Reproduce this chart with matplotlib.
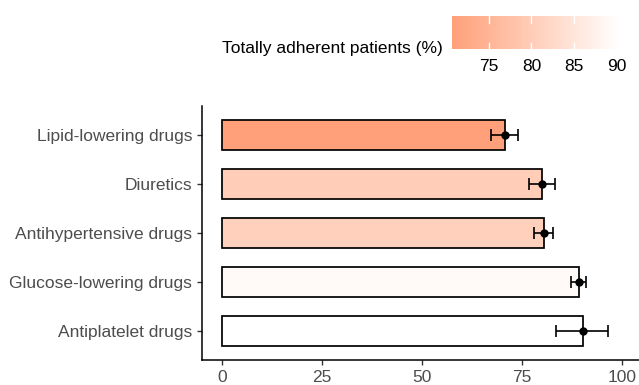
import numpy as np
import matplotlib
matplotlib.use("Agg")
import matplotlib.pyplot as plt
from matplotlib.colors import ListedColormap, Normalize, to_rgb

plt.rcParams['font.family'] = ['Liberation Sans', 'DejaVu Sans']

# Adherence by drug class (bottom to top)
categories = ["Antiplatelet drugs", "Glucose-lowering drugs", "Antihypertensive drugs",
              "Diuretics", "Lipid-lowering drugs"]
adherent = [90.2, 89.2, 80.5, 80.0, 70.7]
ci_low = [83.6, 87.2, 78.0, 76.8, 67.3]
ci_high = [96.6, 91.1, 82.7, 83.3, 74.0]
x_ticks = [0, 25, 50, 75, 100]
legend_ticks = [75, 80, 85, 90]
legend_title = "Totally adherent patients (%)"


def srgb_to_lab(rgb):
    rgb = np.asarray(rgb, float)
    lin = np.where(rgb <= 0.04045, rgb / 12.92, ((rgb + 0.055) / 1.055) ** 2.4)
    m = np.array([[0.4124, 0.3576, 0.1805], [0.2126, 0.7152, 0.0722], [0.0193, 0.1192, 0.9505]])
    xyz = lin @ m.T / np.array([0.95047, 1.0, 1.08883])
    f = np.where(xyz > 0.008856, np.cbrt(xyz), 7.787 * xyz + 16 / 116)
    return np.stack([116 * f[..., 1] - 16, 500 * (f[..., 0] - f[..., 1]), 200 * (f[..., 1] - f[..., 2])], -1)


def lab_to_srgb(lab):
    lab = np.asarray(lab, float)
    fy = (lab[..., 0] + 16) / 116
    fx = fy + lab[..., 1] / 500
    fz = fy - lab[..., 2] / 200
    f = np.stack([fx, fy, fz], -1)
    xyz = np.where(f ** 3 > 0.008856, f ** 3, (f - 16 / 116) / 7.787) * np.array([0.95047, 1.0, 1.08883])
    m = np.array([[3.2406, -1.5372, -0.4986], [-0.9689, 1.8758, 0.0415], [0.0557, -0.2040, 1.0570]])
    lin = xyz @ m.T
    rgb = np.where(lin <= 0.0031308, 12.92 * lin, 1.055 * np.clip(lin, 0, None) ** (1 / 2.4) - 0.055)
    return np.clip(rgb, 0, 1)


low, high = srgb_to_lab(to_rgb("#FFA07A")), srgb_to_lab(to_rgb("#FFFFFF"))
t = np.linspace(0, 1, 256)[:, None]
cmap = ListedColormap(lab_to_srgb(low + (high - low) * t))
norm = Normalize(vmin=min(adherent), vmax=max(adherent))

W, H = 639, 385
fig = plt.figure(figsize=(W / 100, H / 100), dpi=100)

# main panel, placed in pixel coordinates
l, r, tp, bt = 202, 638.5, 105.6, 360.4
ax = fig.add_axes([l / W, 1 - bt / H, (r - l) / W, (bt - tp) / H])
y = np.arange(1, len(categories) + 1)
ax.barh(y, adherent, height=0.6, color=cmap(norm(adherent)), edgecolor="black", linewidth=1.25, zorder=2)
ax.errorbar(adherent, y,
            xerr=[np.array(adherent) - np.array(ci_low), np.array(ci_high) - np.array(adherent)],
            fmt="o", color="black", ms=5, elinewidth=1.2, capsize=4.5, capthick=1.2, zorder=3)
ax.set_xlim(-(221.7 - l) / 4, (r - 221.7) / 4)
ax.set_ylim(0.4, len(categories) + 0.6)
ax.set_yticks(y)
ax.set_yticklabels(categories)
ax.set_xticks(x_ticks)
for s in ("top", "right"):
    ax.spines[s].set_visible(False)
for s in ("left", "bottom"):
    ax.spines[s].set_linewidth(1.1)
ax.tick_params(axis="both", length=3.8, width=1.0, color="#333333", labelcolor="#4D4D4D",
               labelsize=12.5, pad=3.2)

# colour legend
cx0, cx1, cy0, cy1 = 452, 618.5, 16, 49.3
cax = fig.add_axes([cx0 / W, 1 - cy1 / H, (cx1 - cx0) / W, (cy1 - cy0) / H])
grad = np.linspace(norm.vmin, norm.vmax, 256)[None, :]
cax.imshow(grad, cmap=cmap, norm=norm, aspect="auto", extent=(norm.vmin, norm.vmax, 0, 1))
cax.set_xlim(norm.vmin, norm.vmax)
cax.set_ylim(0, 1)
for v in legend_ticks:
    cax.plot([v, v], [0, 0.2], color="white", lw=1.0)
    cax.plot([v, v], [0.8, 1], color="white", lw=1.0)
cax.set_xticks(legend_ticks)
cax.set_yticks([])
cax.tick_params(axis="x", length=0, labelsize=12.5, labelcolor="black", pad=7)
for s in cax.spines.values():
    s.set_visible(False)
fig.text(443 / W, 1 - 52.7 / H, legend_title, ha="right", va="baseline", fontsize=12.5, color="black")

fig.savefig("out.png", dpi=100)
